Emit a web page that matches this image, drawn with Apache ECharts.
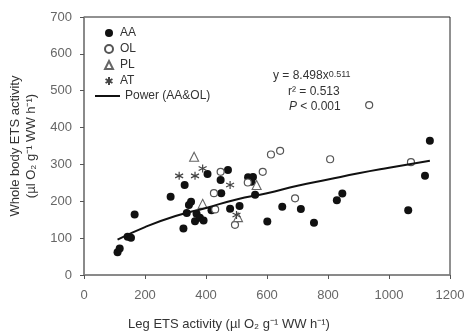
<!DOCTYPE html>
<html>
<head>
<meta charset="utf-8">
<script src="https://cdn.jsdelivr.net/npm/echarts@6/dist/echarts.min.js"></script>
<style>html,body{margin:0;padding:0;background:#fff}</style>
</head>
<body>
<div id="chart" style="width:464px;height:331px"></div>
<script>
// values: [leg ETS, whole body ETS]
var aaPoints = [
  [110, 62], [117, 72], [143, 104], [154, 101], [166, 164], [284, 212],
  [330, 244], [326, 126], [337, 168], [344, 190], [351, 199], [364, 146],
  [369, 166], [380, 155], [392, 148], [405, 274], [418, 176], [448, 258],
  [450, 222], [472, 285], [479, 180], [510, 187], [538, 265], [554, 266],
  [549, 253], [561, 218], [601, 145], [650, 185], [711, 179], [754, 142],
  [829, 203], [847, 221], [1063, 176], [1118, 269], [1134, 364]
]
var olPoints = [
  [426, 222], [430, 178], [448, 280], [495, 136], [537, 251], [586, 280],
  [613, 327], [643, 337], [692, 208], [807, 314], [935, 461], [1072, 306]
]
var plPoints = [[361, 321], [389, 193], [505, 157], [566, 244]]
var atPoints = [[312, 269], [364, 269], [389, 289], [479, 244], [500, 163]]
var powerLine = [
  [110, 96], [200, 130], [300, 160], [400, 182], [500, 205], [600, 222],
  [700, 242], [800, 259], [900, 276], [1000, 291], [1134, 310]
]
var xTicks = {min: 0, max: 1200, step: 200}
var yTicks = {min: 0, max: 700, step: 100}

var font = 'Liberation Sans, Arial, sans-serif'
var starPath = 'path://M5,0 L5,10 M0.7,2.5 L9.3,7.5 M0.7,7.5 L9.3,2.5'
var legendText = {fontSize: 12, color: '#333', fontFamily: font}

var myChart = echarts.init(document.getElementById('chart'))
var option = {
  animation: false,
  textStyle: {fontFamily: font},
  grid: {
    left: 84, right: 14, top: 17, bottom: 56,
    outerBoundsMode: 'none',
    show: true, borderColor: '#222', borderWidth: 1
  },
  legend: [
    {
      orient: 'vertical',
      left: 99, top: 22,
      itemWidth: 8, itemHeight: 8, itemGap: 4,
      data: ['AA', 'OL', 'PL', 'AT'],
      textStyle: Object.assign({padding: [0, 0, 0, 2]}, legendText)
    },
    {
      left: 90, top: 85,
      itemWidth: 25, itemHeight: 2,
      data: [{name: 'Power (AA&OL)', icon: 'rect'}],
      textStyle: legendText
    }
  ],
  xAxis: {
    type: 'value',
    min: xTicks.min, max: xTicks.max, interval: xTicks.step,
    name: 'Leg ETS activity (µl O₂ g⁻¹ WW h⁻¹)',
    nameLocation: 'middle', nameGap: 43,
    nameTextStyle: {fontSize: 13, color: '#333', fontFamily: font, padding: [0, 76, 0, 0]},
    axisLine: {lineStyle: {color: '#888', width: 1.5}},
    axisTick: {length: 4, lineStyle: {color: '#555'}},
    axisLabel: {fontSize: 13, color: '#666', margin: 14, fontFamily: font,
      formatter: function (v) { return String(v) }},
    splitLine: {show: false}
  },
  yAxis: {
    type: 'value',
    min: yTicks.min, max: yTicks.max, interval: yTicks.step,
    name: 'Whole body ETS activity\n(µl O₂ g⁻¹ WW h⁻¹)',
    nameLocation: 'middle', nameGap: 30,
    nameTextStyle: {fontSize: 13, color: '#333', lineHeight: 16, fontFamily: font},
    axisLine: {lineStyle: {color: '#888', width: 1.5}},
    axisTick: {length: 4, lineStyle: {color: '#555'}},
    axisLabel: {fontSize: 13, color: '#666', margin: 12, fontFamily: font},
    splitLine: {show: false}
  },
  graphic: [
    {
      type: 'text', left: 273, top: 70,
      style: {
        text: '{a|y = 8.498x}{s|0.511}',
        fill: '#333',
        rich: {
          a: {fontSize: 12, fontFamily: font, fill: '#333', verticalAlign: 'bottom'},
          s: {fontSize: 9, fontFamily: font, fill: '#333', verticalAlign: 'top'}
        }
      }
    },
    {
      type: 'text', left: 288, top: 86,
      style: {text: 'r² = 0.513', font: '12px ' + font, fill: '#333'}
    },
    {
      type: 'text', left: 289, top: 101,
      style: {
        text: '{i|P} < 0.001',
        font: '12px ' + font, fill: '#333',
        rich: {i: {fontStyle: 'italic', fontSize: 12, fontFamily: font, fill: '#333'}}
      }
    }
  ],
  series: [
    {
      name: 'AA', type: 'scatter', data: aaPoints,
      symbol: 'circle', symbolSize: 8,
      itemStyle: {color: '#111', opacity: 1}, z: 3
    },
    {
      name: 'OL', type: 'scatter', data: olPoints,
      symbol: 'circle', symbolSize: 7,
      itemStyle: {color: '#fff', borderColor: '#555', borderWidth: 1.2, opacity: 1}, z: 3
    },
    {
      name: 'PL', type: 'scatter', data: plPoints,
      symbol: 'triangle', symbolSize: 9,
      itemStyle: {color: '#fff', borderColor: '#666', borderWidth: 1.1, opacity: 1}, z: 3
    },
    {
      name: 'AT', type: 'scatter', data: atPoints,
      symbol: starPath, symbolSize: 8,
      itemStyle: {color: 'rgba(0,0,0,0)', borderColor: '#444', borderWidth: 1.2, opacity: 1}, z: 3
    },
    {
      name: 'Power (AA&OL)', type: 'line', data: powerLine,
      smooth: true, symbol: 'none',
      lineStyle: {color: '#111', width: 2},
      itemStyle: {color: '#111'}, z: 4
    }
  ]
}
myChart.setOption(option)
</script>
</body>
</html>
